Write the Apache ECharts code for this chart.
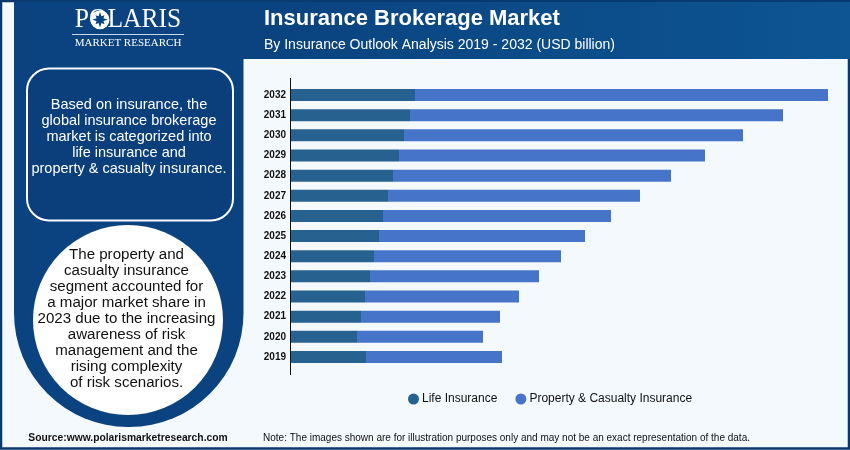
<!DOCTYPE html>
<html>
<head>
<meta charset="utf-8">
<style>html,body{margin:0;padding:0;background:#f4f9fd}#main{width:850px;height:450px}</style>
<script src="https://cdn.jsdelivr.net/npm/echarts@6/dist/echarts.min.js"></script>
</head>
<body>
<div id="main"></div>
<script>
var years = ['2019','2020','2021','2022','2023','2024','2025','2026','2027','2028','2029','2030','2031','2032'];
var lifeInsurance = [7.5,6.6,7.0,7.4,7.9,8.3,8.8,9.2,9.7,10.2,10.8,11.3,11.9,12.4];
var propertyCasualty = [13.6,12.6,13.9,15.4,16.9,18.7,20.6,22.8,25.2,27.8,30.6,33.9,37.3,41.3];
var seriesNames = ['Life Insurance','Property & Casualty Insurance'];
var titleText = 'Insurance Brokerage Market';
var subtitleText = 'By Insurance Outlook Analysis 2019 - 2032 (USD billion)';
var boxLines = ['Based on insurance, the','global insurance brokerage','market is categorized into','life insurance and','property & casualty insurance.'];
var circleLines = ['The property and','casualty insurance','segment accounted for','a major market share in','2023 due to the increasing','awareness of risk','management and the','rising complexity','of risk scenarios.'];
var sourceText = 'Source:www.polarismarketresearch.com';
var noteText = 'Note: The images shown are for illustration purposes only and may not be an exact representation of the data.';

var navy = new echarts.graphic.LinearGradient(0,0,1,0,[{offset:0,color:'#0a437f'},{offset:0.3,color:'#0a437f'},{offset:1,color:'#0d5593'}]);
var sans = '"Liberation Sans", Arial, sans-serif';

var chart = echarts.init(document.getElementById('main'));
var option = {
	animation:false,
	backgroundColor:'#f4f9fd',
	color:['#27618f','#4674c8'],
	title:[
		{text:titleText,left:259,top:3,textStyle:{color:'#fff',fontFamily:sans,fontWeight:'bold',fontSize:22}},
		{text:subtitleText,left:259,top:33,textStyle:{color:'#fff',fontFamily:sans,fontWeight:'normal',fontSize:14}}
	],
	legend:{
		data:seriesNames,
		left:403,
		top:388,
		icon:'circle',
		itemWidth:11,
		itemHeight:11,
		itemGap:18,
		textStyle:{color:'#111',fontFamily:sans,fontSize:12,padding:[0,0,0,-2]}
	},
	grid:{left:291,top:85,width:540,height:282},
	xAxis:{type:'value',min:0,max:54,show:false},
	yAxis:{
		type:'category',
		data:years,
		axisLine:{show:false},
		axisTick:{show:false},
		axisLabel:{color:'#111',fontFamily:sans,fontWeight:'bold',fontSize:10,margin:5}
	},
	series:[
		{name:seriesNames[0],type:'bar',stack:'total',data:lifeInsurance,barWidth:12},
		{name:seriesNames[1],type:'bar',stack:'total',data:propertyCasualty,barWidth:12}
	],
	graphic:[]
};

function addText(list,str,x,y,size,color,extra){
	var style = {text:str,x:x,y:y,fill:color,font:(extra||'')+' '+size+'px '+sans,textAlign:'center',textVerticalAlign:'middle'};
	list.push({type:'text',z:20,style:style});
}
var g = option.graphic;
// frame
g.push({type:'rect',z:-5,shape:{x:1,y:1,width:848,height:447.5},style:{fill:'transparent',stroke:'#083a70',lineWidth:2.5}});
// header + left panel
g.push({type:'rect',z:1,shape:{x:14,y:2,width:836,height:57},style:{fill:navy}});
g.push({type:'rect',z:1,shape:{x:14,y:40,width:229.5,height:387,r:[0,0,114,114]},style:{fill:'#0a437f'}});
g.push({type:'rect',z:2,shape:{x:27,y:68.5,width:206,height:152,r:22},style:{fill:'#0a3f7c',stroke:'#fff',lineWidth:2}});
g.push({type:'circle',z:2,shape:{cx:128,cy:320,r:95},style:{fill:'#fff'}});
// logo
g.push({type:'text',z:20,x:128,y:20,scaleX:0.945,style:{text:'POLARIS',x:0,y:0,fill:'#fff',font:'27px "Liberation Serif", serif',textAlign:'center',textVerticalAlign:'middle'}});
g.push({type:'circle',z:21,shape:{cx:100,cy:19.7,r:9.5},style:{fill:'#fff'}});
g.push({type:'polygon',z:22,shape:{points:[[100,12],[101.4,16.3],[104.5,15.2],[103.4,18.3],[107.7,19.7],[103.4,21.1],[104.5,24.2],[101.4,23.1],[100,27.4],[98.6,23.1],[95.5,24.2],[96.6,21.1],[92.3,19.7],[96.6,18.3],[95.5,15.2],[98.6,16.3]]},style:{fill:'#0a437f'}});
g.push({type:'line',z:20,shape:{x1:72,y1:34.5,x2:184,y2:34.5},style:{stroke:'#c8d8ea',lineWidth:1}});
addText(g,'MARKET RESEARCH',128,43.5,11,'#fff');
g[g.length-1].style.font = '11px "Liberation Serif", serif';
// side texts
for(var i=0;i<boxLines.length;i++){
	addText(g,boxLines[i],129,105+i*16,14.5,'#fff');
}
for(var j=0;j<circleLines.length;j++){
	addText(g,circleLines[j],126.5,255+j*16,15.1,'#111');
}
// axis line runs past the bars
g.push({type:'line',z:20,shape:{x1:290.5,y1:78,x2:290.5,y2:375},style:{stroke:'#111',lineWidth:1}});
addText(g,sourceText,128,438,10.3,'#111','bold');
addText(g,noteText,506.5,438,10,'#111');

chart.setOption(option);
</script>
</body>
</html>
